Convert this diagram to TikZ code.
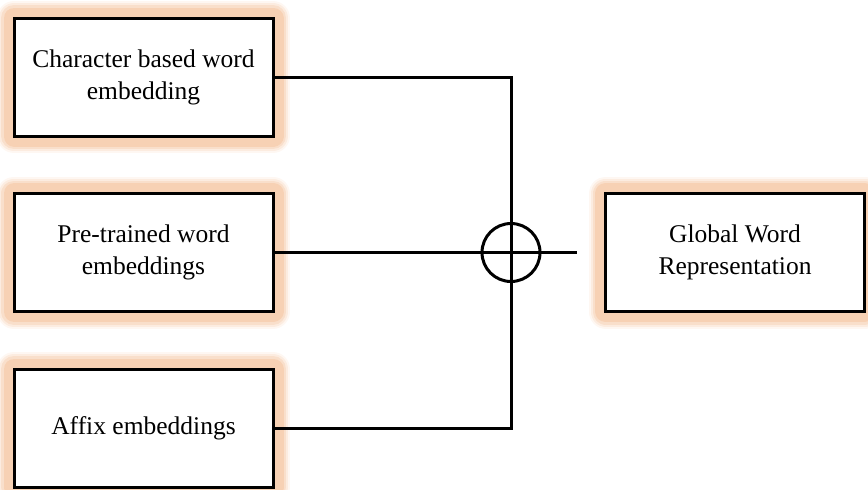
\documentclass[tikz,border=0pt]{standalone}
\usepackage{fontspec}
\setmainfont{Liberation Serif}
\definecolor{glowc}{RGB}{246,203,170}
\tikzset{
  halo/.style={
    preaction={draw=glowc, line width=34pt, draw opacity=0.15, line join=round},
    preaction={draw=glowc, line width=30pt, draw opacity=0.25, line join=round},
    preaction={draw=glowc, line width=26pt, draw opacity=0.4, line join=round},
    preaction={draw=glowc, line width=21pt, draw opacity=0.7, line join=round}},
  block/.style={halo, rectangle, fill=white, draw=black, line width=3pt,
    minimum width=259pt, minimum height=118pt, inner sep=0pt,
    align=center, font=\fontsize{25.5}{32}\selectfont},
  wire/.style={draw=black, line width=3pt},
  summer/.style={circle, draw=black, line width=3pt, minimum size=58pt, inner sep=0pt}
}
\begin{document}
\begin{tikzpicture}[x=1pt,y=-1pt]
  \useasboundingbox (0,0) rectangle (868,490);
  % input blocks and output block
  \node[block] (a) at (143.5,77) {Character based word\\embedding};
  \node[block] (b) at (143.5,252.5) {Pre-trained word\\embeddings};
  \node[block] (c) at (143.5,428) {Affix embeddings};
  \node[block] (g) at (735,252.5) {Global Word\\Representation};
  % summation junction
  \node[summer] (s) at (511,252.5) {};
  \coordinate (e) at (577,252.5);
  % connectors
  \draw[wire] (a.east) -- (a.east -| s.center) -- (c.east -| s.center) -- (c.east);
  \draw[wire] (b.east) -- (e);
\end{tikzpicture}
\end{document}
